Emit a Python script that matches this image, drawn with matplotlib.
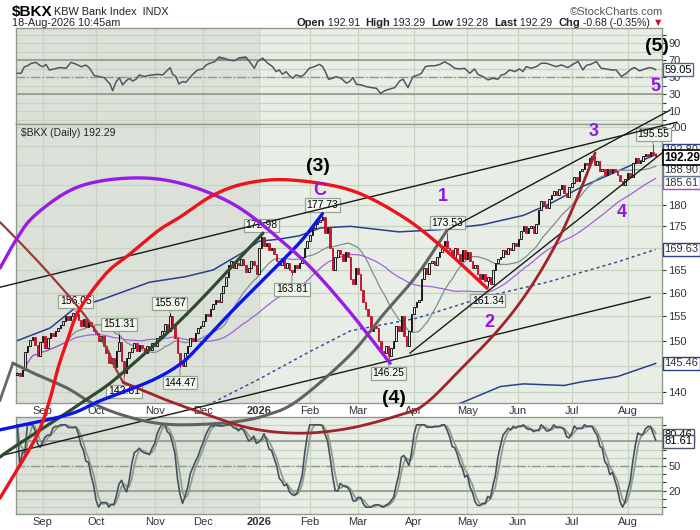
import numpy as np
import pandas as pd
import matplotlib
matplotlib.use("Agg")
import matplotlib.pyplot as plt
from matplotlib.ticker import FixedLocator, NullLocator, FuncFormatter

plt.rcParams['font.family'] = ['Liberation Sans', 'DejaVu Sans']

# ---------------- data ----------------
holidays = ['2025-09-01', '2025-11-27', '2025-12-25', '2026-01-01', '2026-01-19',
            '2026-02-16', '2026-04-03', '2026-05-25', '2026-06-19', '2026-07-03']
dates = pd.bdate_range('2025-08-18', '2026-08-18', freq='C', holidays=holidays)

# daily closes
aug25 = [143.6, 143.0, 144.2, 147.8, 149.0, 150.2, 150.8, 149.2, 147.0, 149.8]
sep25 = [151.0, 148.5, 150.5, 151.5, 151.0, 152.0, 152.5, 153.2, 154.0, 155.0, 154.2,
         155.0, 155.7, 155.5, 154.2, 153.0, 154.5, 152.8, 153.8, 153.0, 152.0]
oct25 = [151.5, 150.0, 151.0, 149.0, 147.5, 145.5, 146.5, 144.8, 148.0, 149.8, 146.0,
         143.5, 146.5, 147.8, 148.5, 149.5, 148.0, 149.2, 148.5, 147.5, 149.0, 148.2, 149.5]
nov25 = [149.0, 150.5, 151.0, 152.0, 153.5, 152.0, 155.0, 153.0, 150.5, 147.5, 145.5,
         145.0, 147.5, 149.0, 150.5, 150.0, 151.5, 152.5, 153.0]
dec25 = [154.0, 155.5, 155.0, 156.5, 157.5, 158.5, 158.0, 160.0, 161.5, 163.5, 166.0,
         167.0, 165.5, 166.5, 166.0, 167.5, 166.0, 164.5, 165.5, 167.0, 166.0, 164.0]
jan26 = [170.0, 172.5, 170.5, 171.0, 169.5, 170.0, 168.5, 167.0, 166.0, 167.5, 165.5,
         166.5, 165.0, 164.5, 166.0, 165.5, 166.5, 168.0, 170.0, 171.5]
feb26 = [173.0, 174.5, 175.5, 176.0, 176.5, 177.2, 173.5, 174.5, 170.0, 165.0, 168.0,
         169.5, 168.5, 167.0, 169.0, 168.0, 163.0, 162.0, 165.5]
mar26 = [164.0, 160.5, 158.0, 156.5, 155.0, 152.0, 153.0, 152.5, 150.0, 148.0, 147.5,
         149.0, 147.0, 148.5, 150.0, 153.0, 152.0, 155.0, 151.0, 149.0, 152.0, 155.5]
apr26 = [157.0, 158.0, 158.5, 163.0, 165.5, 164.0, 166.5, 167.0, 166.0, 168.0, 169.0,
         170.5, 171.5, 170.0, 169.5, 168.0, 170.0, 168.5, 167.0, 169.5, 167.5]
may26 = [169.0, 167.0, 165.5, 166.0, 164.0, 163.0, 164.0, 162.5, 163.5, 162.0, 165.0,
         166.5, 167.5, 168.0, 169.5, 168.5, 170.0, 169.5, 171.0, 170.5]
jun26 = [172.0, 174.0, 175.0, 173.5, 174.5, 175.0, 173.5, 175.5, 179.0, 181.0, 180.0,
         179.5, 181.5, 182.5, 183.5, 182.5, 184.0, 185.0, 183.0, 182.0, 184.5]
jul26 = [185.5, 187.0, 186.0, 188.5, 189.0, 190.5, 190.0, 192.0, 192.5, 190.0, 191.0,
         188.5, 189.0, 187.5, 189.0, 188.0, 189.0, 188.5, 187.5, 186.0, 185.0, 186.5]
aug26 = [188.0, 187.0, 190.5, 192.0, 190.5, 191.0, 192.5, 193.0, 192.5, 193.5, 192.97, 192.29]

closes = np.array(aug25 + sep25 + oct25 + nov25 + dec25 + jan26 + feb26 + mar26
                  + apr26 + may26 + jun26 + jul26 + aug26)
first_open = 143.2
last_open, last_high, last_low = 192.91, 193.29, 192.28

# RSI line (trading day, value)
rsi_day = [0, 1.5, 2.8, 4.1, 5.4, 7.4, 8.7, 10.0, 11.3, 12.6, 14.6, 16.5, 19.2, 21.1, 23.1,
           25.1, 27.0, 28.3, 30.3, 32.3, 34.2, 35.5, 36.5, 37.5, 38.8, 40.1, 41.4, 42.7,
           44.1, 45.4, 46.7, 48.0, 50.0, 51.3, 53.2, 55.2, 57.2, 58.5, 60.1, 61.1, 62.4,
           63.5, 65.0, 66.3, 67.7, 69.0, 70.9, 72.9, 74.2, 75.5, 77.5, 79.4, 81.4, 83.4,
           85.3, 87.3, 89.9, 91.2, 93.2, 94.5, 96.5, 98.5, 100.4, 101.7, 103.0, 104.3,
           105.7, 107.0, 108.3, 109.6, 111.6, 112.9, 114.8, 116.8, 118.8, 120.1, 121.4,
           122.4, 124.0, 125.3, 127.3, 129.4, 130.7, 132.0, 133.3, 135.3, 137.2, 139.2,
           141.2, 142.9, 144.4, 146.4, 148.4, 150.3, 151.7, 153.6, 155.6, 157.6, 158.9,
           160.4, 162.1, 164.1, 166.1, 168.0, 170.0, 172.0, 173.9, 175.9, 177.9, 179.8,
           181.1, 183.1, 185.1, 187.0, 189.0, 190.3, 191.6, 193.6, 195.6, 197.5, 198.8,
           200.1, 202.1, 204.1, 206.0, 208.0, 210.0, 211.9, 213.9, 216.5, 218.5, 220.5,
           222.4, 223.7, 225.7, 227.7, 229.6, 231.6, 233.6, 235.5, 237.5, 239.5, 241.4,
           242.7, 244.7, 246.7, 248.6, 249.9, 251.0]
rsi_val = [54.7, 54.7, 62.4, 63.5, 66.3, 67.5, 64.3, 62.4, 65.1, 58.6, 59.8, 61.4, 60.6, 67.5,
           65.5, 62.4, 64.3, 61.2, 52.0, 50.8, 49.6, 45.1, 42.0, 34.1, 44.3, 49.6, 41.0, 45.5,
           48.8, 45.5, 47.8, 52.7, 50.8, 52.0, 52.7, 53.5, 52.7, 56.7, 61.4, 53.5, 50.8,
           42.2, 44.9, 44.1, 49.0, 53.5, 58.6, 59.8, 64.3, 66.3, 68.2, 73.7, 72.2, 70.2,
           69.4, 72.9, 73.7, 69.0, 60.6, 68.6, 72.5, 66.5, 62.5, 56.7, 58.6, 53.5, 56.7,
           52.0, 48.8, 52.7, 50.8, 53.5, 60.6, 62.5, 65.3, 62.5, 54.7, 47.6, 48.8, 50.8,
           48.8, 43.1, 45.1, 49.6, 41.8, 41.0, 39.0, 37.8, 37.1, 31.0, 34.1, 36.1, 37.8,
           45.5, 47.8, 37.8, 50.8, 52.7, 54.7, 62.4, 63.5, 63.5, 65.1, 68.2, 65.1, 60.6,
           59.8, 60.6, 54.7, 59.8, 53.5, 50.8, 46.9, 48.8, 47.6, 52.7, 53.5, 58.6, 56.7,
           59.8, 56.7, 62.5, 60.6, 62.5, 66.5, 66.5, 64.5, 62.5, 64.5, 61.4, 65.3, 68.5,
           58.6, 63.9, 65.5, 68.5, 60.6, 59.8, 58.6, 58.6, 50.8, 54.7, 59.8, 61.4, 57.5,
           59.8, 61.4, 60.6, 59.05]

# labelled swing highs / lows (trading day index, value)
swing_day = [23, 40, 42, 60, 64, 96, 108, 120, 146, 169, 185, 250]
swing_val = [156.05, 151.31, 142.81, 155.67, 144.47, 172.98, 163.81, 177.73, 146.25,
             173.53, 161.34, 195.55]
swing_side = ['hi', 'hi', 'lo', 'hi', 'lo', 'hi', 'lo', 'hi', 'lo', 'hi', 'lo', 'hi']

# long bands
upper_day = [0, 13, 23, 33, 52, 66, 77, 88, 95, 103, 111, 119, 131, 150, 166, 183, 199,
             210, 222, 236, 251]
upper_val = [150.0, 152.6, 156.9, 158.5, 162.3, 163.5, 165.0, 168.7, 171.5, 172.0, 172.8,
             174.6, 175.0, 173.7, 174.2, 175.4, 177.6, 180.6, 184.6, 188.5, 192.8]
mid_day = [70, 77, 95, 115, 131, 157, 183, 209, 236, 251]
mid_val = [137.0, 138.0, 142.4, 147.8, 152.0, 154.6, 159.0, 162.4, 166.8, 169.63]
lower_day = [172, 175, 190, 199, 215, 222, 236, 251]
lower_val = [137.5, 138.0, 141.0, 141.5, 141.2, 141.9, 142.9, 145.46]

right_labels = [(145.46, '#2b3f8f'), (169.63, '#2b3f8f'), (185.61, '#9a50d0'),
                (188.90, '#5f7a90'), (192.80, '#2b3f8f')]
hidden_ticks = [145, 170, 185, 190, 195]
stoch_last = [80.46, 81.61]

month_names = ['Sep', 'Oct', 'Nov', 'Dec', '2026', 'Feb', 'Mar', 'Apr', 'May', 'Jun',
               'Jul', 'Aug']

# hand-drawn annotations, (trading day, price)
trend_lines = [
    [(-6.8, 161.2), (259.4, 201.4)],
    [(169.0, 174.1), (256.7, 204.7)],
    [(-6.8, 128.4), (248.8, 159.1)],
    [(154.4, 147.5), (253.9, 193.4)],
]
arc_gray = [(-1.7, 145.5), (6.2, 143.6), (19.6, 140.7), (28.6, 138.1), (39.2, 136.0),
            (52.2, 134.4), (65.2, 133.9), (84.8, 134.4), (98.2, 135.7), (110.4, 138.4),
            (130.8, 147.1), (143.8, 155.3), (157.2, 163.9), (169.0, 174.1)]
gray_stub = [(-6.8, 138.4), (-1.7, 145.5)]
arc_red = [(-6.8, 121.3), (3.8, 128.8), (8.9, 133.2), (12.9, 138.7), (16.0, 144.5),
           (19.6, 149.9), (24.3, 156.3), (34.9, 164.2), (43.9, 168.4), (55.7, 174.1),
           (64.0, 177.2), (77.0, 182.5), (90.3, 185.5), (107.2, 186.3), (130.8, 183.8),
           (150.5, 177.7), (166.2, 170.6), (184.7, 161.0)]
arc_purple = [(-6.8, 165.4), (-0.5, 171.8), (6.2, 177.2), (19.6, 183.3), (32.5, 186.0),
              (49.4, 186.8), (64.0, 185.5), (78.5, 182.3), (90.3, 178.2), (104.5, 171.3),
              (116.3, 165.0), (130.8, 155.9), (146.6, 145.5)]
arc_blue = [(-6.8, 133.0), (19.6, 135.7), (32.5, 138.3), (52.2, 142.0), (64.0, 145.3),
            (71.9, 149.1), (84.8, 156.3), (98.2, 163.7), (111.2, 171.3), (120.0, 178.0)]
arc_green = [(-6.8, 128.2), (-1.7, 129.8), (25.8, 138.1), (40.4, 143.2), (66.3, 155.3),
             (96.6, 173.4)]
arc_brown = [(-6.8, 176.0), (-0.5, 172.2), (12.5, 164.2), (25.8, 155.7), (34.9, 148.7),
             (37.6, 145.5), (41.6, 141.8)]
arc_darkred = [(41.6, 141.8), (51.8, 139.8), (58.9, 138.4), (71.9, 136.2), (91.5, 133.3),
               (111.2, 132.4), (130.8, 133.3), (150.5, 135.7), (160.3, 137.7),
               (174.1, 144.2), (189.8, 152.6), (201.6, 161.0), (212.2, 171.3),
               (220.1, 181.8), (227.2, 193.2)]

wave_text = ['(3)', 'C', '(4)', '1', '2', '3', '4', '(5)', '5']
wave_day = [118.3, 119.0, 148.1, 167.4, 185.5, 226.8, 237.8, 251.5, 250.8]
wave_price = [189.6, 183.6, 138.8, 182.3, 153.8, 199.0, 178.4, 222.9, 211.2]

# ---------------- derived series ----------------
n = len(closes)
x = np.arange(n)
opens = np.r_[first_open, closes[:-1]]
opens[-1] = last_open
highs = np.maximum(opens, closes)
lows = np.minimum(opens, closes)
highs[-1], lows[-1] = last_high, last_low
for d, v, s in zip(swing_day, swing_val, swing_side):
    if s == 'hi':
        highs[d] = max(highs[d], v)
    else:
        lows[d] = min(lows[d], v)

cs = pd.Series(closes)
sma20 = cs.rolling(20, min_periods=1).mean()
sma50 = cs.rolling(50, min_periods=1).mean()

hh = pd.Series(highs).rolling(14, min_periods=1).max()
ll = pd.Series(lows).rolling(14, min_periods=1).min()
fast_k = 100 * (cs - ll) / (hh - ll)
slow_k = fast_k.rolling(3, min_periods=1).mean()
slow_d = slow_k.rolling(3, min_periods=1).mean()

rsi_day = np.array(rsi_day)
rsi_val = np.array(rsi_val)

month_pos = [i for i in range(1, n) if dates[i].month != dates[i - 1].month]
shade_end = month_pos[4] - 0.5

# ---------------- figure ----------------
BG = '#e8eee5'
BG_DARK = '#dbe1d8'
GRID = '#c6d4c1'
EDGE = '#8d9b8b'
RED = '#c4122f'
PURPLE = '#9412e8'

fig = plt.figure(figsize=(7, 5.3), dpi=100)
L, Wd = 16 / 700, 646 / 700
ax_rsi = fig.add_axes([L, 1 - 124 / 530, Wd, 96 / 530])
ax = fig.add_axes([L, 1 - 403 / 530, Wd, 279 / 530])
ax_sto = fig.add_axes([L, 1 - 514 / 530, Wd, 97 / 530])

for a in (ax_rsi, ax, ax_sto):
    a.set_facecolor(BG)
    a.axvspan(-0.5, shade_end, color=BG_DARK, zorder=0, lw=0)
    a.set_xlim(-0.5, 253.5)
    for sp in a.spines.values():
        sp.set_color(EDGE)
        sp.set_linewidth(1.0)
    a.set_axisbelow(True)
    a.set_xticks(month_pos)
    a.grid(True, color=GRID, lw=0.9)
    a.yaxis.tick_right()
    a.tick_params(axis='y', which='both', length=3, pad=1.5, labelsize=8,
                  colors='#333333', left=False)
    a.tick_params(axis='x', length=0, pad=2, labelsize=8, colors='#333333')

# main price panel
ax.set_yscale('log')
ax.set_ylim(137.9, 200.9)
ax.yaxis.set_major_locator(FixedLocator(list(range(140, 201, 5))))
ax.yaxis.set_minor_locator(NullLocator())
ax.yaxis.set_major_formatter(FuncFormatter(
    lambda v, _: '' if round(v) in hidden_ticks else f'{v:.0f}'))

down = closes < np.r_[first_open, closes[:-1]]
col = np.where(down, RED, 'black')
filled = closes < opens
face = [c if f else (BG_DARK if i < shade_end else BG) for i, (c, f) in enumerate(zip(col, filled))]
ax.vlines(x, lows, highs, colors=col, lw=0.7, zorder=3)
ax.bar(x, np.maximum(np.abs(closes - opens), 0.12), bottom=np.minimum(opens, closes),
       width=0.62, color=face, edgecolor=col, lw=0.6, zorder=4)

ax.plot(upper_day, upper_val, color='#2b3f8f', lw=1.1, zorder=2)
ax.plot(mid_day, mid_val, color='#3b4fa5', lw=1.1, ls=(0, (2, 2)), zorder=2)
ax.plot(lower_day, lower_val, color='#2b3f8f', lw=1.1, zorder=2)
ax.plot(x, sma20, color='#7d8f8f', lw=0.9, zorder=2)
ax.plot(x, sma50, color='#a162dc', lw=0.9, zorder=2)

for d, v, s in zip(swing_day, swing_val, swing_side):
    off = 3.5 if s == 'hi' else -6.5
    ax.annotate(f'{v:.2f}', xy=(d, v), xytext=(0, off), textcoords='offset points',
                ha='center', va='bottom' if s == 'hi' else 'top', fontsize=7.5,
                bbox=dict(boxstyle='square,pad=0.15', fc='#f3f6f0', ec='#94a58f', lw=0.9),
                arrowprops=dict(arrowstyle='-', color='#94a58f', lw=0.9,
                                shrinkA=0, shrinkB=0), zorder=6)

ax.text(0.008, 0.985, '$BKX (Daily) ' + f'{closes[-1]:.2f}', transform=ax.transAxes,
        ha='left', va='top', fontsize=7.5, color='#222222', zorder=7)

ytr = ax.get_yaxis_transform()
for v, c in right_labels:
    dy = 3 if v == 192.80 else 0
    ax.annotate(f'{v:.2f}', xy=(1.004, v), xycoords=ytr, xytext=(0, dy),
                textcoords='offset points', ha='left', va='center', fontsize=8,
                color='#333333', annotation_clip=False,
                bbox=dict(boxstyle='square,pad=0.12', fc='white', ec=c, lw=1.0))
ax.annotate(f'{closes[-1]:.2f}', xy=(1.004, closes[-1]), xycoords=ytr, xytext=(0, -1),
            textcoords='offset points', ha='left', va='center', fontsize=8.5,
            fontweight='bold', annotation_clip=False,
            bbox=dict(boxstyle='square,pad=0.12', fc='white', ec='black', lw=1.2))

ax.set_xticklabels(month_names)

# RSI panel
ax_rsi.set_ylim(-5, 108)
ax_rsi.set_yticks(list(range(0, 101, 10)))
ax_rsi.set_yticklabels(['' if t % 20 == 0 else str(t) for t in range(0, 101, 10)])
ax_rsi.set_xticklabels([])
for lv in (30, 70):
    ax_rsi.axhline(lv, color=EDGE, lw=1.2, zorder=1)
ax_rsi.axhline(50, color='#8d9b8b', lw=1.0, ls='-.', zorder=1)
ax_rsi.fill_between(rsi_day, rsi_val, 70, where=rsi_val > 70, interpolate=True,
                    color='#8a8f8a', zorder=2)
ax_rsi.plot(rsi_day, rsi_val, color='#4f5862', lw=1.1, zorder=3)
ax_rsi.annotate(f'{rsi_val[-1]:.2f}', xy=(1.004, rsi_val[-1]),
                xycoords=ax_rsi.get_yaxis_transform(), ha='left', va='center', fontsize=8,
                annotation_clip=False,
                bbox=dict(boxstyle='square,pad=0.12', fc='white', ec='#5a6680', lw=1.0))

# stochastic panel
ax_sto.set_ylim(-8.3, 109.5)
ax_sto.set_yticks(list(range(0, 101, 10)))
ax_sto.set_yticklabels([str(t) if t in (20, 50) else '' for t in range(0, 101, 10)])
ax_sto.set_xticklabels(month_names)
for lv in (20, 80):
    ax_sto.axhline(lv, color=EDGE, lw=1.2, zorder=1)
ax_sto.axhline(50, color='#8d9b8b', lw=1.0, ls='-.', zorder=1)
ax_sto.plot(x, slow_d, color='#8f9f8c', lw=1.3, zorder=2)
ax_sto.plot(x, slow_k, color='#475063', lw=1.2, zorder=3)
sytr = ax_sto.get_yaxis_transform()
for v, dy in zip(stoch_last, (4, -1)):
    ax_sto.annotate(f'{v:.2f}', xy=(1.004, v), xycoords=sytr, xytext=(0, dy),
                    textcoords='offset points', ha='left', va='center', fontsize=8,
                    annotation_clip=False,
                    bbox=dict(boxstyle='square,pad=0.12', fc='white', ec='#4a5570', lw=1.0))

for a in (ax, ax_sto):
    for lab in a.get_xticklabels():
        if lab.get_text() == '2026':
            lab.set_fontweight('bold')

# overlay for the hand drawn lines (not clipped to the panel)
ov = fig.add_axes(ax.get_position())
ov.set_yscale('log')
ov.set_xlim(ax.get_xlim())
ov.set_ylim(ax.get_ylim())
ov.axis('off')
ov.patch.set_visible(False)
ov.set_zorder(10)


def smooth(pts, steps=24):
    P = ov.transData.transform(np.array(pts, dtype=float))
    P = np.vstack([2 * P[0] - P[1], P, 2 * P[-1] - P[-2]])
    t = np.linspace(0, 1, steps)[:, None]
    segs = []
    for k in range(1, len(P) - 2):
        p0, p1, p2, p3 = P[k - 1], P[k], P[k + 1], P[k + 2]
        segs.append(0.5 * (2 * p1 + (-p0 + p2) * t + (2 * p0 - 5 * p1 + 4 * p2 - p3) * t ** 2
                           + (-p0 + 3 * p1 - 3 * p2 + p3) * t ** 3))
    return ov.transData.inverted().transform(np.vstack(segs))


for ln in trend_lines:
    xs, ys = zip(*ln)
    ov.plot(xs, ys, color='#1a1a1a', lw=1.0, clip_on=False)
xs, ys = zip(*gray_stub)
ov.plot(xs, ys, color='#666666', lw=2.0, clip_on=False)

for pts, c, lw in [(arc_gray, '#626262', 2.2), (arc_brown, '#9c3a36', 1.6),
                   (arc_darkred, '#a3232b', 2.0), (arc_green, '#2f4a2f', 2.3),
                   (arc_blue, '#0a14f0', 2.4), (arc_purple, '#9a1be8', 2.4),
                   (arc_red, '#f0121a', 2.4)]:
    s = smooth(pts)
    ov.plot(s[:, 0], s[:, 1], color=c, lw=lw, clip_on=False, solid_capstyle='round')

for t, d, p in zip(wave_text, wave_day, wave_price):
    black = t.startswith('(')
    ov.text(d, p, t, ha='center', va='center', fontsize=14 if black else 13,
            fontweight='bold', color='black' if black else PURPLE, clip_on=False)

# header
fig.text(12 / 700, 1 - 12 / 530, '$BKX', fontsize=11, fontweight='bold', va='center')
fig.text(54 / 700, 1 - 12 / 530, 'KBW Bank Index  INDX', fontsize=7.8, va='center',
         color='#222222')
fig.text(663 / 700, 1 - 12 / 530, '\u00a9StockCharts.com', fontsize=8, va='center',
         ha='right', color='#555555')
fig.text(12 / 700, 1 - 23 / 530, dates[-1].strftime('%d-%b-%Y') + ' 10:45am', fontsize=7.8,
         va='center', color='#222222')

chg = closes[-1] - closes[-2]
pieces = [('Open', 'bold', '#222'), (f' {last_open:.2f}  ', 'normal', '#222'),
          ('High', 'bold', '#222'), (f' {last_high:.2f}  ', 'normal', '#222'),
          ('Low', 'bold', '#222'), (f' {last_low:.2f}  ', 'normal', '#222'),
          ('Last', 'bold', '#222'), (f' {closes[-1]:.2f}  ', 'normal', '#222'),
          ('Chg', 'bold', '#222'),
          (f' {chg:.2f} ({100 * chg / closes[-2]:.2f}%) ', 'normal', '#222'),
          ('\u25bc', 'normal', RED)]
renderer = fig.canvas.get_renderer()
xr = 663 / 700
for txt, wt, c in reversed(pieces):
    tt = fig.text(xr, 1 - 23 / 530, txt, fontsize=7.6 if wt == 'normal' else 8,
                  fontweight=wt, va='center', ha='right', color=c)
    xr -= tt.get_window_extent(renderer).width / 700

fig.savefig('out.png', dpi=100)
